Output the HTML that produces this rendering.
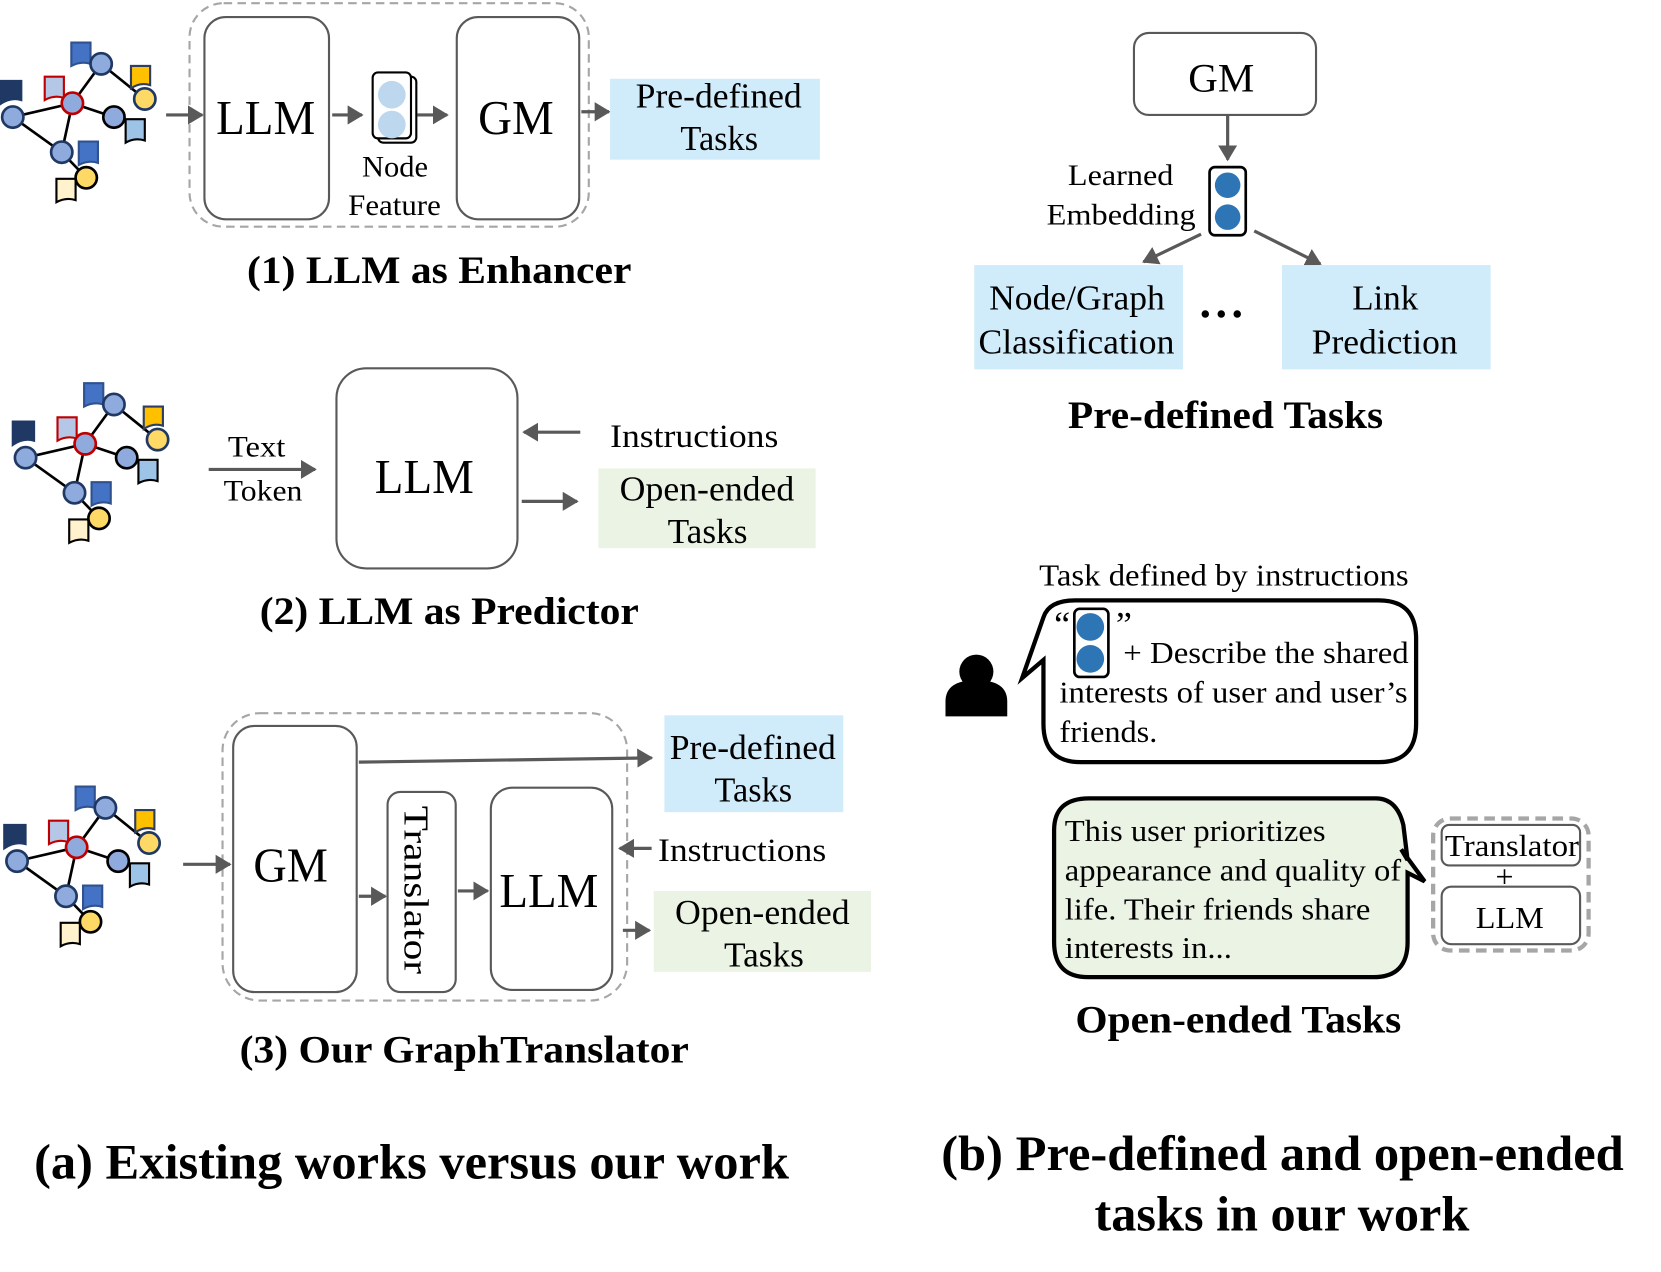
<!DOCTYPE html>
<html><head><meta charset="utf-8"><style>
html,body{margin:0;padding:0;background:#fff;}
svg{display:block;}
text{font-family:"Liberation Serif",serif;fill:#000;}
.b{font-weight:bold;}
</style></head><body>
<svg width="1661" height="1272" viewBox="0 0 1560 1195" preserveAspectRatio="none" xmlns="http://www.w3.org/2000/svg">
<defs>
<marker id="ar" markerWidth="6" markerHeight="6" refX="4.5" refY="3" orient="auto" markerUnits="strokeWidth"><path d="M0,0 L5,3 L0,6 z" fill="#595959"/></marker>
<g id="graph">
<g stroke="#000" stroke-width="2.5">
<line x1="12" y1="110" x2="68" y2="97"/><line x1="12" y1="110" x2="58" y2="143"/>
<line x1="68" y1="97" x2="95" y2="60"/><line x1="68" y1="97" x2="58" y2="143"/>
<line x1="68" y1="97" x2="107" y2="110"/><line x1="95" y1="60" x2="136" y2="93"/>
<line x1="58" y1="143" x2="81" y2="167"/>
</g>
<path d="M0,76 h20 v18 q-10,-3 -20,4z" fill="#1f3864" stroke="#1f3864" stroke-width="2"/>
<path d="M42,72 h18 v20 q-9,-3 -18,2z" fill="#b4c7e7" stroke="#c00000" stroke-width="2"/>
<path d="M67,40 h18 v20 q-9,-3 -18,2z" fill="#4472c4" stroke="#2f528f" stroke-width="2"/>
<path d="M123,62 h18 v18 q-9,-3 -18,3z" fill="#ffc000" stroke="#2f3e5f" stroke-width="2"/>
<path d="M118,112 h18 v20 q-9,-3 -18,2z" fill="#9dc3e6" stroke="#000" stroke-width="2"/>
<path d="M74,133 h18 v20 q-9,-3 -18,2z" fill="#4472c4" stroke="#2f528f" stroke-width="2"/>
<path d="M53,168 h18 v20 q-9,-3 -18,2z" fill="#fff2cc" stroke="#000" stroke-width="2"/>
<g stroke-width="2.5">
<circle cx="12" cy="110" r="10" fill="#8faadc" stroke="#1f3864"/>
<circle cx="68" cy="97" r="10" fill="#8faadc" stroke="#c00000"/>
<circle cx="95" cy="60" r="10" fill="#8faadc" stroke="#1f3864"/>
<circle cx="136" cy="93" r="10" fill="#ffd966" stroke="#1f3864"/>
<circle cx="107" cy="110" r="10" fill="#8faadc" stroke="#000"/>
<circle cx="58" cy="143" r="10" fill="#8faadc" stroke="#1f3864"/>
<circle cx="81" cy="167" r="10" fill="#ffd966" stroke="#000"/>
</g>
</g>
</defs>
<g fill="none" stroke="#595959" stroke-width="3">
<use href="#graph" x="0" y="0"/>
<rect x="178" y="3" width="375" height="210" rx="32" stroke="#a6a6a6" stroke-width="2" stroke-dasharray="8,5"/>
<rect x="192" y="16" width="117" height="190" rx="20" stroke="#595959" stroke-width="2"/>
<rect x="429" y="16" width="115" height="190" rx="20" stroke="#595959" stroke-width="2"/>
<line x1="156" y1="108" x2="190" y2="108" marker-end="url(#ar)"/>
<line x1="312" y1="108" x2="340" y2="108" marker-end="url(#ar)"/>
<line x1="392" y1="108" x2="420" y2="108" marker-end="url(#ar)"/>
<line x1="546" y1="105" x2="572" y2="105" marker-end="url(#ar)"/>
<rect x="355" y="72" width="36" height="62" rx="5" stroke="#000" stroke-width="2" fill="#fff"/>
<rect x="350" y="68" width="36" height="62" rx="5" stroke="#000" stroke-width="2" fill="#fff"/>
<use href="#graph" x="12" y="320"/>
<rect x="316" y="346" width="170" height="188" rx="28" stroke="#595959" stroke-width="2"/>
<line x1="196" y1="441" x2="296" y2="441" marker-end="url(#ar)"/>
<line x1="545" y1="406" x2="492" y2="406" marker-end="url(#ar)"/>
<line x1="490" y1="471" x2="542" y2="471" marker-end="url(#ar)"/>
<use href="#graph" x="4" y="699"/>
<rect x="209" y="670" width="380" height="270" rx="35" stroke="#a6a6a6" stroke-width="2" stroke-dasharray="8,5"/>
<rect x="219" y="682" width="116" height="250" rx="20" stroke="#595959" stroke-width="2"/>
<rect x="364" y="744" width="64" height="188" rx="12" stroke="#595959" stroke-width="2"/>
<rect x="461" y="740" width="114" height="190" rx="20" stroke="#595959" stroke-width="2"/>
<line x1="172" y1="812" x2="216" y2="812" marker-end="url(#ar)"/>
<line x1="337" y1="716" x2="612" y2="712" marker-end="url(#ar)"/>
<line x1="337" y1="842" x2="362" y2="842" marker-end="url(#ar)"/>
<line x1="430" y1="837" x2="458" y2="837" marker-end="url(#ar)"/>
<line x1="612" y1="797" x2="582" y2="797" marker-end="url(#ar)"/>
<line x1="585" y1="874" x2="610" y2="874" marker-end="url(#ar)"/>
<rect x="1065" y="31" width="171" height="77" rx="14" stroke="#595959" stroke-width="2"/>
<line x1="1153" y1="108" x2="1153" y2="150" marker-end="url(#ar)"/>
<line x1="1128" y1="220" x2="1074" y2="246" marker-end="url(#ar)"/>
<line x1="1178" y1="217" x2="1240" y2="248" marker-end="url(#ar)"/>
</g>
<circle cx="368" cy="89" r="13" fill="#bdd7ee"/><circle cx="368" cy="117" r="13" fill="#bdd7ee"/>
<rect x="573" y="74" width="197" height="76" fill="#d0ebfa"/>
<rect x="562" y="440" width="204" height="75" fill="#ebf3e4"/>
<rect x="624" y="672" width="168" height="91" fill="#d0ebfa"/>
<rect x="614" y="837" width="204" height="76" fill="#ebf3e4"/>
<rect x="915" y="249" width="196" height="98" fill="#d0ebfa"/>
<rect x="1204" y="249" width="196" height="98" fill="#d0ebfa"/>
<rect x="1136" y="157" width="34" height="64" rx="5" fill="#fff" stroke="#000" stroke-width="2.5"/>
<circle cx="1153" cy="174" r="12" fill="#2e75b6"/><circle cx="1153" cy="204" r="12" fill="#2e75b6"/>
<circle cx="917" cy="631" r="16" fill="#000"/>
<path d="M888,673 v-14 q0,-20 29,-20 q29,0 29,20 v14z" fill="#000"/>
<path d="M1010,564 H1295 Q1330,564 1330,600 V680 Q1330,716 1295,716 H1015 Q980,716 980,680 V620 L960,637 L980,580 Q985,564 1010,564z" fill="#fff" stroke="#000" stroke-width="4"/>
<rect x="1009" y="572" width="32" height="64" rx="5" fill="#fff" stroke="#000" stroke-width="2.5"/>
<circle cx="1024" cy="589" r="13" fill="#2e75b6"/><circle cx="1024" cy="619" r="13" fill="#2e75b6"/>
<path d="M1023,750 H1292 Q1312,750 1318,775 L1322,808 L1316,798 L1338,828 L1322,820 V885 Q1322,918 1290,918 H1022 Q990,918 990,885 V780 Q990,750 1023,750z" fill="#ebf3e4" stroke="#000" stroke-width="4"/>
<rect x="1346" y="769" width="146" height="124" rx="16" fill="none" stroke="#a6a6a6" stroke-width="4" stroke-dasharray="10,6"/>
<rect x="1354" y="775" width="130" height="38" rx="7" fill="#fff" stroke="#595959" stroke-width="2"/>
<rect x="1354" y="833" width="130" height="54" rx="9" fill="#fff" stroke="#595959" stroke-width="2"/>
<g font-size="46" lengthAdjust="spacingAndGlyphs">
<text x="203" y="126" textLength="93" lengthAdjust="spacingAndGlyphs">LLM</text>
<text x="449" y="126" textLength="71" lengthAdjust="spacingAndGlyphs">GM</text>
<text x="352" y="463" textLength="93" lengthAdjust="spacingAndGlyphs">LLM</text>
<text x="238" y="828" textLength="70" lengthAdjust="spacingAndGlyphs">GM</text>
<text x="469" y="852" textLength="93" lengthAdjust="spacingAndGlyphs">LLM</text>
</g>
<text x="1116" y="86" font-size="38" textLength="62" lengthAdjust="spacingAndGlyphs">GM</text>
<g font-size="33">
<text x="597" y="101" textLength="156" lengthAdjust="spacingAndGlyphs">Pre-defined</text><text x="639" y="141" textLength="73" lengthAdjust="spacingAndGlyphs">Tasks</text>
<text x="582" y="470" textLength="164" lengthAdjust="spacingAndGlyphs">Open-ended</text><text x="627" y="510" textLength="75" lengthAdjust="spacingAndGlyphs">Tasks</text>
<text x="629" y="713" textLength="156" lengthAdjust="spacingAndGlyphs">Pre-defined</text><text x="671" y="753" textLength="73" lengthAdjust="spacingAndGlyphs">Tasks</text>
<text x="634" y="868" textLength="164" lengthAdjust="spacingAndGlyphs">Open-ended</text><text x="680" y="908" textLength="75" lengthAdjust="spacingAndGlyphs">Tasks</text>
<text x="929" y="291" textLength="165" lengthAdjust="spacingAndGlyphs">Node/Graph</text><text x="919" y="332" textLength="184" lengthAdjust="spacingAndGlyphs">Classification</text>
<text x="1270" y="291" textLength="62" lengthAdjust="spacingAndGlyphs">Link</text><text x="1232" y="332" textLength="137" lengthAdjust="spacingAndGlyphs">Prediction</text>
</g>
<g fill="#000"><circle cx="1132" cy="295" r="3.5"/><circle cx="1147" cy="295" r="3.5"/><circle cx="1162" cy="295" r="3.5"/></g>
<g font-size="28">
<text x="340" y="166" textLength="62" lengthAdjust="spacingAndGlyphs">Node</text><text x="327" y="202" textLength="87" lengthAdjust="spacingAndGlyphs">Feature</text>
<text x="214" y="429" textLength="54" lengthAdjust="spacingAndGlyphs">Text</text><text x="210" y="470" textLength="74" lengthAdjust="spacingAndGlyphs">Token</text>
<text x="1003" y="174" textLength="99" lengthAdjust="spacingAndGlyphs">Learned</text><text x="983" y="211" textLength="140" lengthAdjust="spacingAndGlyphs">Embedding</text>
</g>
<g font-size="31">
<text x="573" y="420" textLength="158" lengthAdjust="spacingAndGlyphs">Instructions</text>
<text x="618" y="809" textLength="158" lengthAdjust="spacingAndGlyphs">Instructions</text>
</g>
<text transform="translate(380,757) rotate(90)" font-size="33" textLength="158" lengthAdjust="spacingAndGlyphs">Translator</text>
<g font-size="29">
<text x="976" y="550" textLength="347" lengthAdjust="spacingAndGlyphs">Task defined by instructions</text>
<text x="990" y="598" font-size="34">“</text><text x="1048" y="598" font-size="34">”</text>
<text x="1055" y="623" textLength="268" lengthAdjust="spacingAndGlyphs">+ Describe the shared</text>
<text x="995" y="660" textLength="327" lengthAdjust="spacingAndGlyphs">interests of user and user’s</text>
<text x="995" y="697" textLength="92" lengthAdjust="spacingAndGlyphs">friends.</text>
<text x="1000" y="790" textLength="245" lengthAdjust="spacingAndGlyphs">This user prioritizes</text>
<text x="1000" y="827" textLength="316" lengthAdjust="spacingAndGlyphs">appearance and quality of</text>
<text x="1000" y="864" textLength="287" lengthAdjust="spacingAndGlyphs">life. Their friends share</text>
<text x="1000" y="900" textLength="157" lengthAdjust="spacingAndGlyphs">interests in...</text>
<text x="1357" y="804" textLength="126" lengthAdjust="spacingAndGlyphs">Translator</text>
<text x="1413" y="834" text-anchor="middle" font-size="30">+</text>
<text x="1386" y="872" textLength="64" lengthAdjust="spacingAndGlyphs">LLM</text>
</g>
<g font-size="37" class="b">
<text x="232" y="266" textLength="361" lengthAdjust="spacingAndGlyphs">(1) LLM as Enhancer</text>
<text x="244" y="586" textLength="356" lengthAdjust="spacingAndGlyphs">(2) LLM as Predictor</text>
<text x="225" y="998" textLength="422" lengthAdjust="spacingAndGlyphs">(3) Our GraphTranslator</text>
<text x="1003" y="402" textLength="296" lengthAdjust="spacingAndGlyphs">Pre-defined Tasks</text>
<text x="1010" y="970" textLength="306" lengthAdjust="spacingAndGlyphs">Open-ended Tasks</text>
</g>
<g font-size="47" class="b">
<text x="32" y="1107" textLength="709" lengthAdjust="spacingAndGlyphs">(a) Existing works versus our work</text>
<text x="884" y="1099" textLength="641" lengthAdjust="spacingAndGlyphs">(b) Pre-defined and open-ended</text>
<text x="1028" y="1156" textLength="352" lengthAdjust="spacingAndGlyphs">tasks in our work</text>
</g>
</svg>
</body></html>
